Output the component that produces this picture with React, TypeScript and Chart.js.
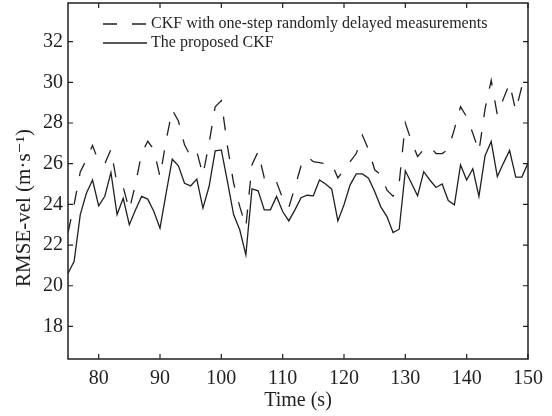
import React, { useEffect, useRef } from "react";
import { Chart, registerables } from "chart.js";

Chart.register(...registerables);

const times = [
  75, 76, 77, 78, 79, 80, 81, 82, 83, 84, 85, 86, 87, 88, 89, 90, 91, 92, 93, 94,
  95, 96, 97, 98, 99, 100, 101, 102, 103, 104, 105, 106, 107, 108, 109, 110, 111, 112, 113, 114,
  115, 116, 117, 118, 119, 120, 121, 122, 123, 124, 125, 126, 127, 128, 129, 130, 131, 132, 133, 134,
  135, 136, 137, 138, 139, 140, 141, 142, 143, 144, 145, 146, 147, 148, 149, 150,
];

const delayedCKF = [
  22.6, 24.0, 25.6, 26.2, 26.9, 26.1, 26.0, 26.7, 25.0, 24.85, 23.73, 25.0, 26.5, 27.1, 26.7, 25.35, 27.15, 28.65, 28.1, 26.93,
  26.35, 26.6, 25.45, 27.0, 28.8, 29.1, 26.85, 25.05, 23.9, 22.9, 25.95, 26.6, 25.3, 25.4, 25.1, 24.3, 23.85, 24.85, 25.9, 26.35,
  26.1, 26.05, 26.0, 26.0, 25.3, 25.7, 26.1, 26.5, 27.4, 26.7, 25.7, 25.45, 24.7, 24.4, 25.05, 28.0, 27.1, 26.35, 26.7, 26.85,
  26.5, 26.5, 26.7, 27.7, 28.8, 28.3, 27.5, 26.6, 28.7, 30.1, 28.4, 29.2, 29.95, 28.6, 29.8, 30.45,
];

const proposedCKF = [
  20.6, 21.2, 23.5, 24.55, 25.2, 23.93, 24.4, 25.57, 23.5, 24.3, 23.0, 23.73, 24.39, 24.26, 23.65, 22.83, 24.55, 26.22, 25.9, 25.04,
  24.91, 25.24, 23.82, 24.88, 26.63, 26.68, 25.12, 23.5, 22.75, 21.52, 24.76, 24.67, 23.73, 23.73, 24.39, 23.65, 23.19, 23.73, 24.33, 24.45,
  24.42, 25.2, 25.0, 24.75, 23.19, 23.98, 24.96, 25.5, 25.5, 25.29, 24.63, 23.88, 23.4, 22.62, 22.78, 25.65, 25.04, 24.42, 25.61, 25.2,
  24.83, 25.0, 24.19, 23.98, 25.94, 25.2, 25.75, 24.39, 26.39, 27.09, 25.37, 26.03, 26.65, 25.34, 25.34, 26.03,
];

const seriesLabels = [
  "CKF with one-step randomly delayed measurements",
  "The proposed CKF",
];

const xTicks = [80, 90, 100, 110, 120, 130, 140, 150];
const yTicks = [18, 20, 22, 24, 26, 28, 30, 32];

const xTitle = "Time (s)";
const yTitle = "RMSE-vel (m\u00B7s\u207B\u00B9)";

const INK = "#231f20";
const SERIF = "'Liberation Serif', 'Times New Roman', 'DejaVu Serif', serif";
const DASH = [14, 15];

const framePlugin = {
  id: "matlabFrame",
  afterDraw(chart: any) {
    const { ctx, chartArea } = chart;
    const { left, right, top, bottom } = chartArea;
    const xs = chart.scales.x;
    const ys = chart.scales.y;
    ctx.save();
    ctx.strokeStyle = INK;
    ctx.lineWidth = 1.5;
    ctx.setLineDash([]);
    ctx.strokeRect(left, top, right - left, bottom - top);
    const tl = 5;
    ctx.lineWidth = 1.2;
    ctx.beginPath();
    xTicks.forEach((v) => {
      const px = xs.getPixelForValue(v);
      ctx.moveTo(px, bottom);
      ctx.lineTo(px, bottom - tl);
      ctx.moveTo(px, top);
      ctx.lineTo(px, top + tl);
    });
    yTicks.forEach((v) => {
      const py = ys.getPixelForValue(v);
      ctx.moveTo(left, py);
      ctx.lineTo(left + tl, py);
      ctx.moveTo(right, py);
      ctx.lineTo(right - tl, py);
    });
    ctx.stroke();

    // legend
    ctx.font = `16px ${SERIF}`;
    ctx.fillStyle = INK;
    ctx.textBaseline = "middle";
    ctx.textAlign = "left";
    const lx0 = left + 35;
    const lx1 = left + 79;
    const rows = [
      { y: top + 21, dash: DASH, text: seriesLabels[0] },
      { y: top + 40, dash: [], text: seriesLabels[1] },
    ];
    rows.forEach((r) => {
      ctx.beginPath();
      ctx.lineWidth = 1.3;
      ctx.setLineDash(r.dash);
      ctx.moveTo(lx0, r.y);
      ctx.lineTo(lx1, r.y);
      ctx.stroke();
      ctx.setLineDash([]);
      ctx.fillText(r.text, lx1 + 4, r.y);
    });

    // y title
    ctx.save();
    ctx.font = `21px ${SERIF}`;
    ctx.textAlign = "center";
    ctx.textBaseline = "middle";
    ctx.translate(24, 208);
    ctx.rotate(-Math.PI / 2);
    ctx.fillText(yTitle, 0, 0);
    ctx.restore();
    ctx.restore();
  },
};

export default function App() {
  const ref = useRef<HTMLCanvasElement | null>(null);
  useEffect(() => {
    if (!ref.current) return;
    const chart = new Chart(ref.current, {
      type: "line",
      data: {
        datasets: [
          {
            label: seriesLabels[0],
            data: times.map((t, i) => ({ x: t, y: delayedCKF[i] })),
            borderColor: INK,
            borderWidth: 1.3,
            borderDash: DASH,
            pointRadius: 0,
            tension: 0,
            fill: false,
          },
          {
            label: seriesLabels[1],
            data: times.map((t, i) => ({ x: t, y: proposedCKF[i] })),
            borderColor: INK,
            borderWidth: 1.3,
            pointRadius: 0,
            tension: 0,
            fill: false,
          },
        ],
      },
      options: {
        responsive: false,
        animation: false,
        layout: { padding: { top: 3, right: 24, left: 0, bottom: 0 } },
        plugins: { legend: { display: false }, tooltip: { enabled: false } },
        scales: {
          x: {
            type: "linear",
            min: 75,
            max: 150,
            afterBuildTicks: (s: any) => {
              s.ticks = xTicks.map((v) => ({ value: v }));
            },
            afterFit: (s: any) => {
              s.height = 57;
              s.paddingLeft = 0;
              s.paddingRight = 0;
            },
            grid: { display: false, drawTicks: false },
            border: { display: false },
            ticks: {
              font: { family: SERIF, size: 20 },
              color: INK,
              padding: 8,
              maxRotation: 0,
              autoSkip: false,
            },
            title: {
              display: true,
              text: xTitle,
              font: { family: SERIF, size: 20 },
              color: INK,
              padding: { top: 0, bottom: 3 },
            },
          },
          y: {
            type: "linear",
            min: 16.4,
            max: 33.9,
            afterBuildTicks: (s: any) => {
              s.ticks = yTicks.map((v) => ({ value: v }));
            },
            afterFit: (s: any) => {
              s.width = 68;
              s.paddingTop = 0;
              s.paddingBottom = 0;
            },
            grid: { display: false, drawTicks: false },
            border: { display: false },
            ticks: {
              font: { family: SERIF, size: 20 },
              color: INK,
              padding: 5,
              autoSkip: false,
            },
          },
        },
      },
      plugins: [framePlugin],
    });
    return () => chart.destroy();
  }, []);
  return (
    <div style={{ position: "fixed", left: 0, top: 0, width: 552, height: 416, background: "#fff" }}>
      <canvas ref={ref} width={552} height={416} />
    </div>
  );
}
